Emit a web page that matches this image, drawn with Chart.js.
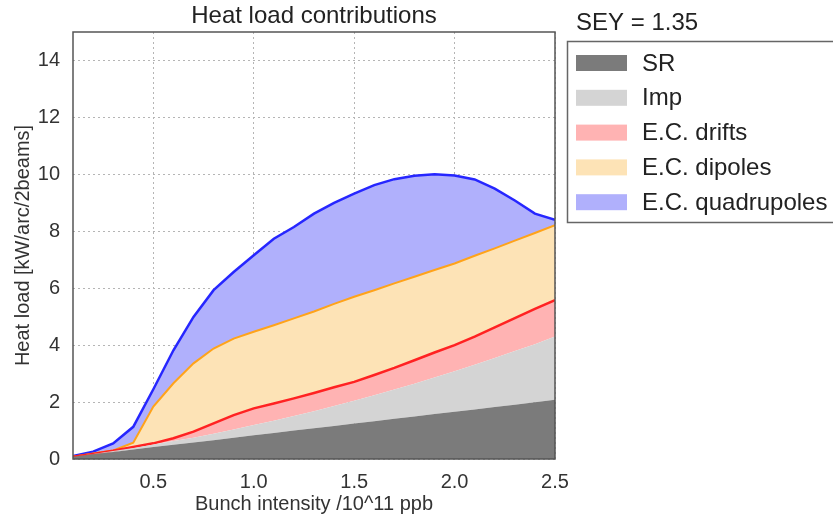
<!DOCTYPE html>
<html lang="en">
<head>
    <meta charset="UTF-8">
    <title>Heat load contributions</title>
    <script src="https://cdn.jsdelivr.net/npm/chart.js"></script>
    <style>
        body {
            margin: 0;
            background-color: white;
            overflow: hidden;
        }
    </style>
</head>
<body>
    <canvas id="heatChart" width="833" height="521"></canvas>

    <script>
        // bunch intensity (10^11 ppb)
        const intensity = [0.1, 0.2, 0.3, 0.4, 0.5, 0.6, 0.7, 0.8, 0.9, 1.0, 1.1, 1.2, 1.3,
                           1.4, 1.5, 1.6, 1.7, 1.8, 1.9, 2.0, 2.1, 2.2, 2.3, 2.4, 2.5];

        // contribution of each source, kW/arc/2beams (stacked on top of each other)
        const srLoad   = [0.08, 0.17, 0.25, 0.33, 0.42, 0.50, 0.58, 0.66, 0.75, 0.83, 0.91, 1.00, 1.08,
                          1.16, 1.25, 1.33, 1.41, 1.49, 1.58, 1.66, 1.74, 1.83, 1.91, 1.99, 2.08];
        const impLoad  = [0.00, 0.01, 0.03, 0.06, 0.09, 0.13, 0.17, 0.23, 0.29, 0.36, 0.43, 0.51, 0.60,
                          0.70, 0.80, 0.91, 1.03, 1.15, 1.28, 1.42, 1.57, 1.72, 1.88, 2.04, 2.22];
        const drifts   = [0.00, 0.00, 0.01, 0.03, 0.04, 0.10, 0.21, 0.36, 0.50, 0.59, 0.61, 0.62, 0.64,
                          0.66, 0.66, 0.71, 0.76, 0.83, 0.88, 0.92, 0.99, 1.07, 1.16, 1.24, 1.28];
        const dipoles  = [0.00, 0.01, 0.01, 0.15, 1.29, 1.93, 2.40, 2.63, 2.69, 2.69, 2.75, 2.81, 2.86,
                          2.93, 2.99, 2.98, 2.97, 2.93, 2.90, 2.87, 2.84, 2.78, 2.72, 2.67, 2.63];
        const quads    = [0.02, 0.07, 0.25, 0.56, 0.61, 1.16, 1.63, 2.05, 2.34, 2.69, 3.04, 3.21, 3.44,
                          3.55, 3.62, 3.69, 3.66, 3.55, 3.36, 3.09, 2.68, 2.10, 1.41, 0.68, 0.19];

        const xTicks = [0.5, 1.0, 1.5, 2.0, 2.5];
        const yTicks = [0, 2, 4, 6, 8, 10, 12, 14];
        const seyLabel = 'SEY = 1.35';

        const FONT = "'Liberation Sans', Arial, sans-serif";

        function pts(values) {
            return values.map((v, i) => ({ x: intensity[i], y: v }));
        }

        const series = [
            { label: 'SR',              data: srLoad,  fill: '#7b7b7b', line: '#7b7b7b', width: 0 },
            { label: 'Imp',             data: impLoad, fill: '#d4d4d4', line: '#d4d4d4', width: 0 },
            { label: 'E.C. drifts',     data: drifts,  fill: '#ffb3b3', line: '#ff2222', width: 2.5 },
            { label: 'E.C. dipoles',    data: dipoles, fill: '#fde3b6', line: '#ffa31a', width: 2 },
            { label: 'E.C. quadrupoles', data: quads,  fill: '#b0b0fc', line: '#2626ff', width: 2.5 }
        ];

        // frame around the plot + boxed legend on the right
        const framePlugin = {
            id: 'frame',
            afterDraw(chart) {
                const ctx = chart.ctx;
                const a = chart.chartArea;
                ctx.save();
                ctx.strokeStyle = '#555';
                ctx.lineWidth = 1.5;
                ctx.strokeRect(a.left, a.top, a.right - a.left, a.bottom - a.top);

                ctx.font = '24px ' + FONT;
                ctx.fillStyle = '#222';
                ctx.textBaseline = 'middle';
                ctx.fillText(seyLabel, 576, 23);

                ctx.strokeStyle = '#666';
                ctx.lineWidth = 1.5;
                ctx.strokeRect(567.5, 41.5, 300, 181);

                chart.data.datasets.forEach((ds, i) => {
                    const y = 63 + i * 34.8;
                    ctx.fillStyle = ds.backgroundColor;
                    ctx.fillRect(576, y - 8, 51, 16);
                    ctx.fillStyle = '#222';
                    ctx.fillText(ds.label, 642, y + 1);
                });
                ctx.restore();
            }
        };

        new Chart(document.getElementById('heatChart'), {
            type: 'line',
            data: {
                datasets: series.map((s, i) => ({
                    label: s.label,
                    data: pts(s.data),
                    backgroundColor: s.fill,
                    borderColor: s.line,
                    borderWidth: s.width,
                    fill: i === 0 ? 'origin' : '-1',
                    pointRadius: 0,
                    tension: 0
                }))
            },
            options: {
                responsive: false,
                animation: false,
                layout: { padding: { left: 0, right: 278, top: 0, bottom: 0 } },
                plugins: {
                    legend: { display: false },
                    tooltip: { enabled: false },
                    title: {
                        display: true,
                        text: 'Heat load contributions',
                        fullSize: false,
                        color: '#222',
                        font: { family: FONT, size: 24, weight: 'normal' },
                        padding: { top: 2, bottom: 1.2 }
                    }
                },
                scales: {
                    x: {
                        type: 'linear',
                        min: 0.1,
                        max: 2.5,
                        z: 1,
                        afterBuildTicks: axis => { axis.ticks = xTicks.map(v => ({ value: v })); },
                        afterFit: axis => { axis.height = 62; },
                        grid: { color: '#b5b5b5', lineWidth: 1, drawTicks: false },
                        border: { display: false, dash: [2, 3] },
                        ticks: {
                            padding: 11,
                            color: '#333',
                            font: { family: FONT, size: 20 },
                            callback: v => v.toFixed(1)
                        },
                        title: {
                            display: true,
                            text: 'Bunch intensity /10^11 ppb',
                            color: '#333',
                            font: { family: FONT, size: 20 },
                            padding: { top: 0, bottom: 5 }
                        }
                    },
                    y: {
                        stacked: true,
                        min: 0,
                        max: 15,
                        z: 1,
                        afterBuildTicks: axis => { axis.ticks = yTicks.map(v => ({ value: v })); },
                        afterFit: axis => { axis.width = 73; },
                        grid: { color: '#b5b5b5', lineWidth: 1, drawTicks: false },
                        border: { display: false, dash: [2, 3] },
                        ticks: {
                            padding: 13,
                            color: '#333',
                            font: { family: FONT, size: 20 }
                        },
                        title: {
                            display: true,
                            text: 'Heat load [kW/arc/2beams]',
                            color: '#333',
                            font: { family: FONT, size: 20 },
                            padding: { top: 11, bottom: 0 }
                        }
                    }
                }
            },
            plugins: [framePlugin]
        });
    </script>
</body>
</html>
